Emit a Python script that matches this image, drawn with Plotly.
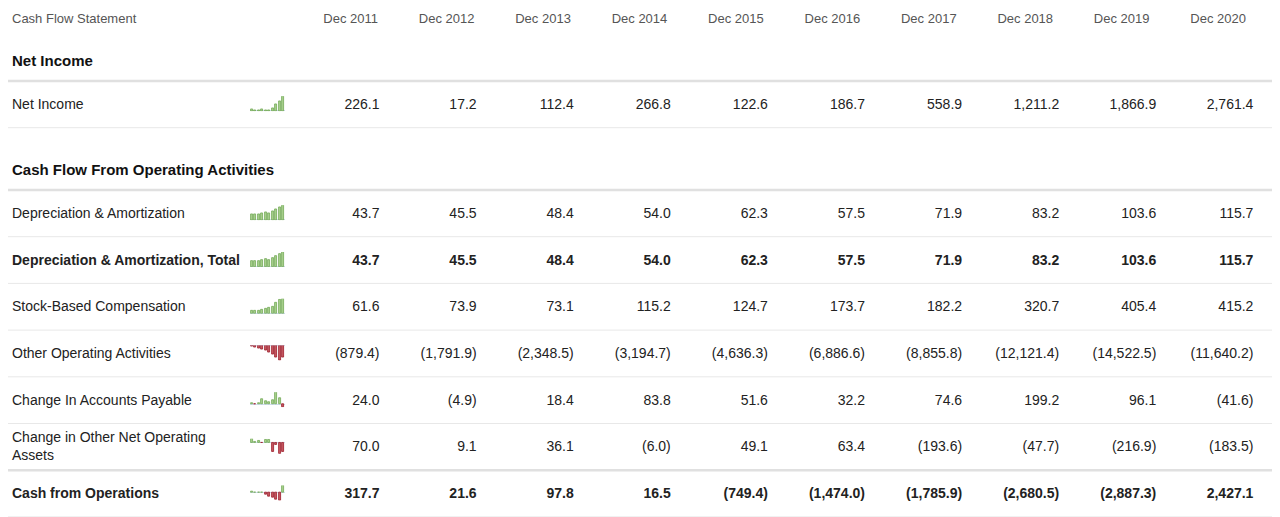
import plotly.graph_objects as go

# column headers
periods = ["Dec 2011", "Dec 2012", "Dec 2013", "Dec 2014", "Dec 2015",
           "Dec 2016", "Dec 2017", "Dec 2018", "Dec 2019", "Dec 2020"]

# row values (in millions)
net_income = [226.1, 17.2, 112.4, 266.8, 122.6, 186.7, 558.9, 1211.2, 1866.9, 2761.4]
dep_amort = [43.7, 45.5, 48.4, 54.0, 62.3, 57.5, 71.9, 83.2, 103.6, 115.7]
dep_amort_total = [43.7, 45.5, 48.4, 54.0, 62.3, 57.5, 71.9, 83.2, 103.6, 115.7]
stock_comp = [61.6, 73.9, 73.1, 115.2, 124.7, 173.7, 182.2, 320.7, 405.4, 415.2]
other_operating = [-879.4, -1791.9, -2348.5, -3194.7, -4636.3, -6886.6,
                   -8855.8, -12121.4, -14522.5, -11640.2]
change_payable = [24.0, -4.9, 18.4, 83.8, 51.6, 32.2, 74.6, 199.2, 96.1, -41.6]
change_other_assets = [70.0, 9.1, 36.1, -6.0, 49.1, 63.4, -193.6, -47.7, -216.9, -183.5]
cash_from_ops = [317.7, 21.6, 97.8, 16.5, -749.4, -1474.0, -1785.9, -2680.5, -2887.3, 2427.1]

# (section, [(label, values, bold, thick line above)])
sections = [
    ("Net Income", [
        ("Net Income", net_income, False, False),
    ]),
    ("Cash Flow From Operating Activities", [
        ("Depreciation & Amortization", dep_amort, False, False),
        ("Depreciation & Amortization, Total", dep_amort_total, True, False),
        ("Stock-Based Compensation", stock_comp, False, False),
        ("Other Operating Activities", other_operating, False, False),
        ("Change In Accounts Payable", change_payable, False, False),
        ("Change in Other Net Operating<br>Assets", change_other_assets, False, False),
        ("Cash from Operations", cash_from_ops, True, True),
    ]),
]

# page coords: the plot sits inside the 8px body margin of the html page
PAGE_W, PAGE_H, OFF = 1280, 517, 8
W, H = PAGE_W - OFF, PAGE_H - OFF
FONT = "Liberation Sans, Arial, sans-serif"
GREEN, GREEN_EDGE = "#a9d18e", "#72a857"
RED, RED_EDGE = "#c65a63", "#9c1c28"
ROW_H = 46.7
TEXT_DY = 1
HEADER_X0, HEADER_DX = 378, 96.44
VALUE_X0, VALUE_DX = 379.5, 97.1
SPARK_X = (250, 285)
SECTION_TOPS = [41, 150]


def fmt(v):
    s = f"{abs(v):,.1f}"
    return f"({s})" if v < 0 else s


fig = go.Figure()
shapes = []


def hline(y, thick):
    shapes.append(dict(type="line", xref="x", yref="y", x0=0, x1=PAGE_W, y0=y, y1=y,
                       line=dict(color="#e0e0e0" if thick else "#e8e8e8",
                                 width=2.5 if thick else 1), layer="below"))


def add_text(xs, ys, texts, pos, size, color):
    fig.add_trace(go.Scatter(x=xs, y=[v + TEXT_DY for v in ys], text=texts, mode="text",
                             textposition=pos,
                             textfont=dict(family=FONT, size=size, color=color),
                             hoverinfo="skip", showlegend=False, xaxis="x", yaxis="y"))


# header row
add_text([12], [18.5], ["Cash Flow Statement"], "middle right", 13, "#555")
add_text([HEADER_X0 + HEADER_DX * i for i in range(len(periods))], [18.5] * len(periods),
         periods, "middle left", 13, "#555")

layout_axes = {}
spark_n = 0
for (title, rows), top in zip(sections, SECTION_TOPS):
    add_text([12], [top + 20], [f"<b>{title}</b>"], "middle right", 15, "#111")
    y = top + 40
    hline(y, True)
    for label, vals, bold, thick in rows:
        if thick:
            hline(y, True)
        c = y + ROW_H / 2
        lab = f"<b>{label}</b>" if bold else label
        add_text([12], [c], [lab], "middle right", 14, "#222")
        txt = [f"<b>{fmt(v)}</b>" if bold else fmt(v) for v in vals]
        add_text([VALUE_X0 + VALUE_DX * i for i in range(len(vals))], [c] * len(vals),
                 txt, "middle left", 14, "#222")

        # sparkline in its own small axes
        spark_n += 1
        k = spark_n + 1
        lo, hi = min(0, min(vals)), max(0, max(vals))
        pad = (hi - lo) * 0.03
        cy = c - 0.5
        layout_axes[f"xaxis{k}"] = dict(
            domain=[(SPARK_X[0] - OFF) / W, (SPARK_X[1] - OFF) / W],
            range=[-0.5, len(vals) - 0.5], visible=False, anchor=f"y{k}")
        layout_axes[f"yaxis{k}"] = dict(
            domain=[1 - (cy + 7.5 - OFF) / H, 1 - (cy - 7.5 - OFF) / H],
            range=[lo - pad, hi + pad], anchor=f"x{k}",
            showgrid=False, showticklabels=False, ticks="", showline=False,
            zeroline=True, zerolinecolor="#cfdcef", zerolinewidth=1)
        fig.add_trace(go.Bar(
            x=list(range(len(vals))), y=vals, width=0.5,
            marker=dict(color=[GREEN if v >= 0 else RED for v in vals],
                        line=dict(color=[GREEN_EDGE if v >= 0 else RED_EDGE for v in vals],
                                  width=0.8)),
            hoverinfo="skip", showlegend=False, xaxis=f"x{k}", yaxis=f"y{k}"))

        y += ROW_H
        hline(y, False)

fig.update_layout(
    width=W, height=H,
    margin=dict(l=0, r=0, t=0, b=0),
    paper_bgcolor="white", plot_bgcolor="rgba(0,0,0,0)",
    xaxis=dict(range=[OFF, PAGE_W], domain=[0, 1], visible=False, fixedrange=True),
    yaxis=dict(range=[PAGE_H, OFF], domain=[0, 1], visible=False, fixedrange=True),
    shapes=shapes,
    bargap=0,
    **layout_axes,
)

fig.write_html("out.html")
